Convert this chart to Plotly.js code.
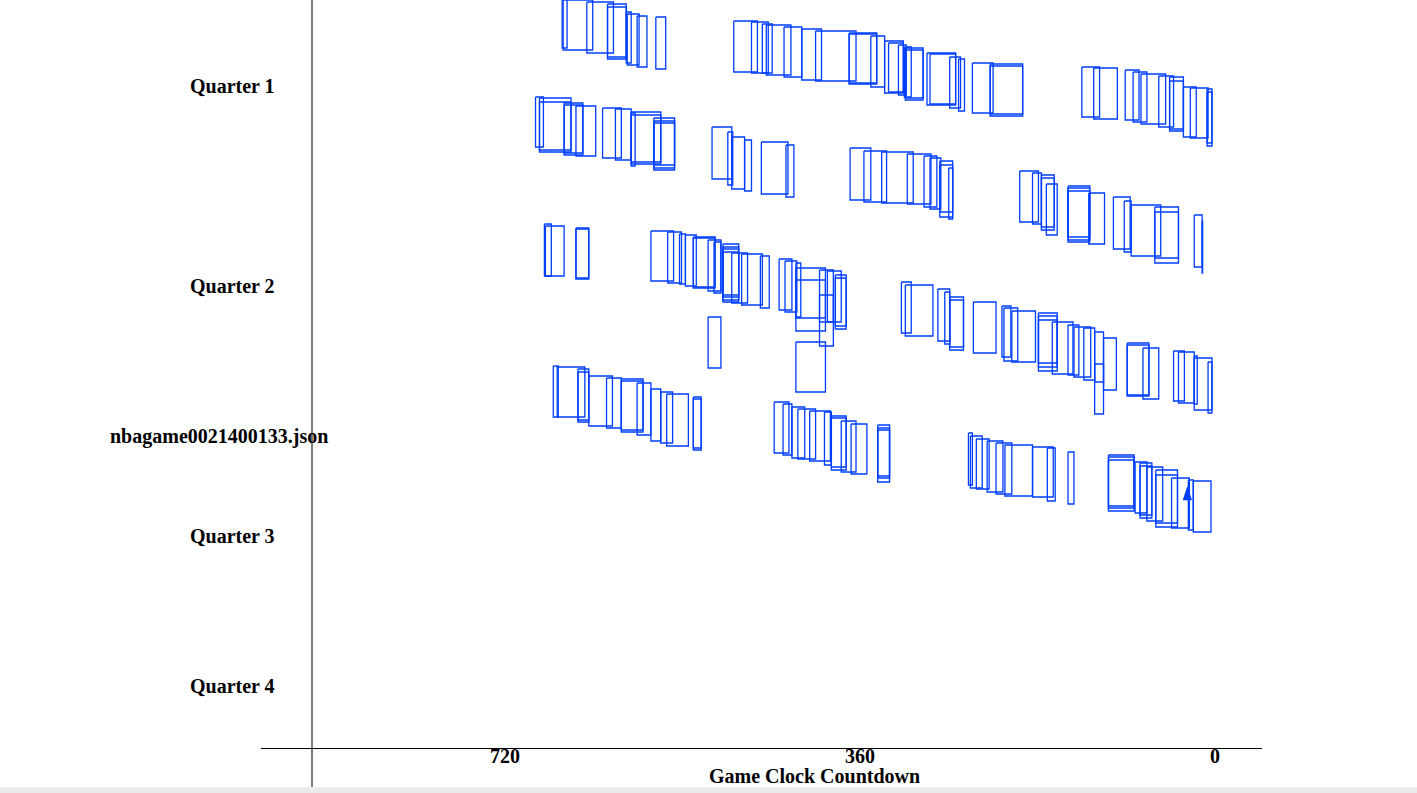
<!DOCTYPE html>
<html>
<head>
<meta charset="utf-8">
<script src="https://cdn.plot.ly/plotly-3.0.1.min.js"></script>
<style>
  html, body { margin: 0; padding: 0; background: #ffffff; }
  #chart { width: 1417px; height: 793px; }
</style>
</head>
<body>
<div id="chart"></div>
<script>
// Game clock (seconds remaining) where each possession box starts / ends
const clockStart = [
  662,661,637,616,616,597,596,586,567,
  488,470,459,455,437,419,405,371,371,349,335,331,321,315,314,314,292,289,269,260,246,228,228,
  135,123,91,83,75,57,46,46,32,25,8,8,
  689,685,685,660,660,648,621,608,592,592,592,569,569,569,
  510,494,490,477,460,435,
  370,356,338,312,295,289,279,279,270,
  198,185,176,176,171,149,149,149,128,103,92,85,61,61,21,13,
  680,679,648,648,
  572,555,543,537,529,529,514,508,499,499,499,499,490,480,461,514,442,436,425,425,425,401,401,393,385,385,425,
  318,314,281,274,269,269,245,216,214,206,179,179,179,165,149,143,133,122,122,113,89,89,73,42,37,21,21,7,
  671,667,646,646,635,617,602,602,586,572,562,556,529,529,
  447,438,429,423,411,396,389,389,379,369,342,342,342,
  250,248,242,231,222,213,185,170,149,
  108,108,108,81,76,76,69,60,60,44,27,22
];
const clockEnd = [
  657,631,610,597,597,592,584,576,557,
  464,453,449,430,419,399,364,343,343,335,316,316,313,308,296,296,263,263,258,254,225,195,195,
  117,99,77,69,50,42,32,32,19,7,3,3,
  681,653,653,641,641,628,602,592,588,562,562,548,548,548,
  490,489,477,470,433,427,
  349,333,306,288,282,278,266,266,266,
  179,176,163,163,160,127,127,127,112,86,85,55,37,37,13,12.5,
  673,660,635,635,
  549,541,537,526,507,507,501,501,483,483,483,483,474,459,452,501,429,424,420,395,395,387,387,379,374,374,395,
  308,286,269,269,255,255,222,207,200,182,160,160,160,144,138,126,122,113,113,100,67,67,57,31,21,18,3,3,
  666,639,635,635,611,602,580,580,572,562,550,534,521,521,
  432,429,416,405,390,389,374,374,364,353,330,330,330,
  246,236,229,215,206,185,164,162,143,
  82,82,82,69,64,64,53,38,38,26,22,4
];
// Vertical band position of each box (top / bottom edge)
const boxTop = [
  -2,0,2,4,7,12,14,16,17,
  21,22,24,25,27,29,31,33,34,36,41,43,45,47,48,50,53,54,57,59,63,64,66,
  67,68,70,72,74,76,77,81,87,88,89,92,
  97,98,102,103,105,106,108,109,113,112,115,118,121,123,
  127,132,137,140,142,145,
  148,151,152,154,156,158,161,165,168,
  171,173,175,178,184,186,188,191,193,197,201,205,207,212,215,221,
  224,226,228,229,
  231,232,234,235,237,238,240,242,244,247,249,252,253,254,256,317,259,261,263,268,280,270,295,271,275,278,342,
  282,285,289,292,297,300,302,306,308,311,313,316,320,322,325,327,328,332,364,338,343,345,348,351,352,356,358,362,
  366,367,369,372,376,378,379,381,383,389,392,394,397,399,
  402,404,407,409,411,412,416,418,421,424,425,428,430,
  433,436,439,441,443,445,447,448,452,
  455,457,460,462,463,466,467,470,475,478,480,481
];
const boxBottom = [
  48,50,53,57,59,63,65,67,69,
  72,73,73,75,77,80,81,84,83,87,93,92,95,97,100,98,105,104,108,111,113,116,114,
  117,119,120,122,124,127,129,131,137,138,143,146,
  147,150,152,155,153,156,158,160,166,162,164,165,168,170,
  179,185,189,191,194,197,
  200,202,203,204,207,209,212,217,219,
  222,224,227,230,235,237,240,242,244,249,252,256,258,263,267,273,
  276,276,279,278,
  281,283,284,286,287,288,291,293,295,297,300,302,303,305,308,368,310,312,317,318,331,322,346,322,326,329,392,
  333,336,341,344,347,350,353,357,361,362,363,367,371,374,375,377,380,382,414,390,395,396,399,401,403,404,410,413,
  417,417,420,422,426,428,430,432,435,441,443,446,448,450,
  453,455,458,459,461,465,467,470,472,474,476,478,482,
  485,488,489,492,494,496,497,501,504,
  506,508,511,513,515,518,521,523,527,528,530,532
];
// Event marker (arrow) near the end of the third band
const markerClock = [28];
const markerPos = [486];

const rowLabels = ['Quarter 1', 'Quarter 2', 'nbagame0021400133.json', 'Quarter 3', 'Quarter 4'];
const rowLabelPos = [86, 286, 436, 536, 686];
const rowLabelLeft = [-0.0729, -0.0729, -0.1528, -0.0729, -0.0729];

const xTickVals = [720, 360, 0];
const xTickText = ['720', '360', '0'];
const xAxisTitle = 'Game Clock Countdown';

const xs = [], ys = [];
for (let i = 0; i < clockStart.length; i++) {
  const a = clockStart[i], b = clockEnd[i], t = boxTop[i], u = boxBottom[i];
  xs.push(a, b, b, a, a, null);
  ys.push(t, t, u, u, t, null);
}

const blue = 'rgb(0,62,255)';
const serif = 'Liberation Serif, Times New Roman, serif';
const boldFont = { family: serif, size: 20, color: '#000', weight: 'bold' };

const traces = [
  {
    type: 'scatter', mode: 'lines', x: xs, y: ys,
    line: { color: blue, width: 1.3 }, hoverinfo: 'skip', showlegend: false,
    connectgaps: false
  },
  {
    type: 'scatter', mode: 'markers', x: markerClock, y: markerPos,
    marker: { symbol: 'arrow', size: 15, color: blue, line: { width: 0 } },
    hoverinfo: 'skip', showlegend: false
  }
];

const annotations = rowLabels.map((t, i) => ({
  text: t, xref: 'paper', yref: 'y', x: rowLabelLeft[i], y: rowLabelPos[i],
  xanchor: 'left', yanchor: 'middle', showarrow: false, font: boldFont
}));
annotations.push({
  text: xAxisTitle, xref: 'paper', yref: 'paper', x: 0.5534, y: -0.0374,
  xanchor: 'center', yanchor: 'middle', showarrow: false, font: boldFont
});

const layout = {
  width: 1417, height: 793,
  margin: { l: 261, r: 155, t: 0, b: 45, pad: 0 },
  paper_bgcolor: '#ffffff', plot_bgcolor: '#ffffff',
  showlegend: false,
  xaxis: {
    range: [967.4, -47.7], showgrid: false, zeroline: false,
    showline: true, linecolor: '#000', linewidth: 1, ticks: '',
    tickmode: 'array', tickvals: xTickVals, ticktext: xTickText,
    tickfont: boldFont, ticklabelstandoff: -10,
    automargin: false, fixedrange: true
  },
  yaxis: {
    range: [748, 0], showgrid: false, zeroline: false, showline: false,
    showticklabels: false, ticks: '', automargin: false, fixedrange: true
  },
  shapes: [
    { type: 'line', xref: 'paper', yref: 'paper', x0: 0.05095, x1: 0.05095, y0: -0.0521, y1: 1,
      line: { color: '#000', width: 1 } },
    { type: 'rect', xref: 'paper', yref: 'paper', x0: -0.27, x1: 1.16, y0: -0.07, y1: -0.0521,
      fillcolor: '#ebebeb', line: { width: 0 } }
  ],
  annotations: annotations
};

Plotly.newPlot('chart', traces, layout, { staticPlot: true, displayModeBar: false });
</script>
</body>
</html>
